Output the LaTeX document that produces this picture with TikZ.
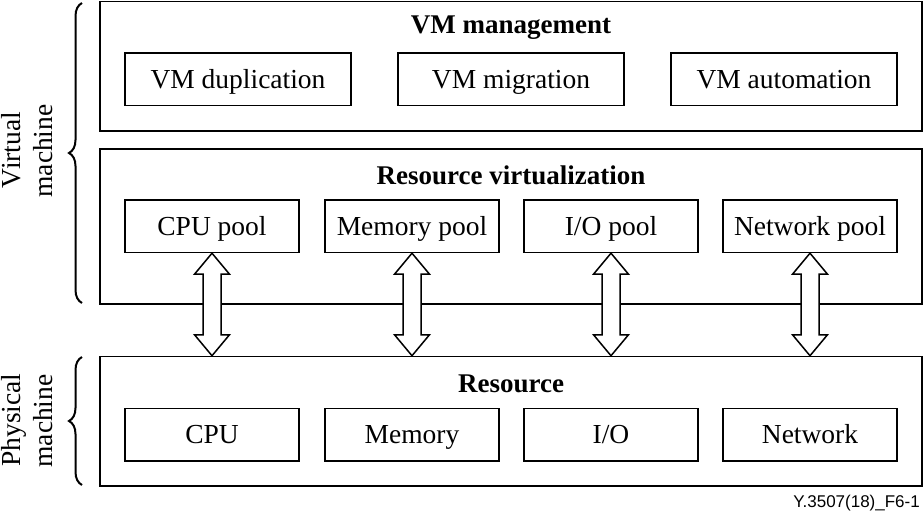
\documentclass[tikz,border=0pt]{standalone}
\usepackage{fontspec}
\setmainfont{Liberation Serif}
\setsansfont{Liberation Sans}
\usetikzlibrary{calc,decorations.pathreplacing}
\tikzset{
  outerbox/.style={draw, line width=1.5pt, minimum width=822pt, inner sep=0pt},
  innerbox/.style={draw, line width=1.5pt, minimum height=52.5pt, inner sep=0pt,
    text height=18.2pt, text depth=0pt, font=\fontsize{27.5}{32}\selectfont},
  wbox/.style={innerbox, minimum width=226pt},
  nbox/.style={innerbox, minimum width=174pt},
  title/.style={anchor=base, font=\fontsize{27}{32}\selectfont\bfseries},
  sidelabel/.style={anchor=base, rotate=90, inner sep=0pt, text height=19pt, text depth=5pt,
    font=\fontsize{27.5}{32}\selectfont},
  bracestyle/.style={decorate, decoration={brace, amplitude=13pt}, line width=2pt},
  dblarrow/.style={draw, fill=white, line width=1.5pt, line join=miter}
}
\begin{document}
\begin{tikzpicture}[x=1pt,y=-1pt]
\useasboundingbox (0,0) rectangle (924,512);
% outer boxes
\node[outerbox, minimum height=129.5pt] (vmm) at (511,66.25) {};
\node[outerbox, minimum height=155pt] (rv) at (511,226.5) {};
\node[outerbox, minimum height=129.5pt] (res) at (511,421.25) {};
% titles
\node[title] (vmmt) at (511,33) {VM management};
\node[title] (rvt) at (511,184.3) {Resource virtualization};
\node[title] (rest) at (511,392) {Resource};
% row 1
\node[wbox] (dup) at (238,79) {VM duplication};
\node[wbox] (mig) at (511,79) {VM migration};
\node[wbox] (aut) at (784,79) {VM automation};
% row 2
\node[nbox] (cpup) at (212,226.2) {CPU pool};
\node[nbox] (memp) at (412,226.2) {Memory pool};
\node[nbox] (iop) at (611,226.2) {I/O pool};
\node[nbox] (netp) at (810,226.2) {Network pool};
% row 3
\node[nbox] (cpu) at (212,434.5) {CPU};
\node[nbox] (mem) at (412,434.5) {Memory};
\node[nbox] (io) at (611,434.5) {I/O};
\node[nbox] (net) at (810,434.5) {Network};
% double arrows
\foreach \n in {cpup,memp,iop,netp}{
  \coordinate (t\n) at (\n.south);
  \coordinate (b\n) at (\n.south |- res.north);
  \draw[dblarrow] (t\n) -- ($(t\n)+(17.5,21)$) -- ($(t\n)+(9,21)$) -- ($(b\n)+(9,-21)$)
    -- ($(b\n)+(17.5,-21)$) -- (b\n) -- ($(b\n)+(-17.5,-21)$) -- ($(b\n)+(-9,-21)$)
    -- ($(t\n)+(-9,21)$) -- ($(t\n)+(-17.5,21)$) -- cycle;
}
% braces
\coordinate (vb1) at (82,303);
\coordinate (vb2) at (82,3);
\draw[bracestyle] (vb1) -- (vb2);
\coordinate (pb1) at (82,485);
\coordinate (pb2) at (82,357);
\draw[bracestyle] (pb1) -- (pb2);
% side labels
\node[sidelabel] (virt) at (20.5,150) {Virtual};
\node[sidelabel] (vmach) at (52,151) {machine};
\node[sidelabel] (phys) at (20.5,420) {Physical};
\node[sidelabel] (pmach) at (52,421) {machine};
% figure id
\node[anchor=base east, inner sep=0pt, font=\sffamily\fontsize{17}{20}\selectfont] (fid) at (920,507) {Y.3507(18)\_F6-1};
\end{tikzpicture}
\end{document}
